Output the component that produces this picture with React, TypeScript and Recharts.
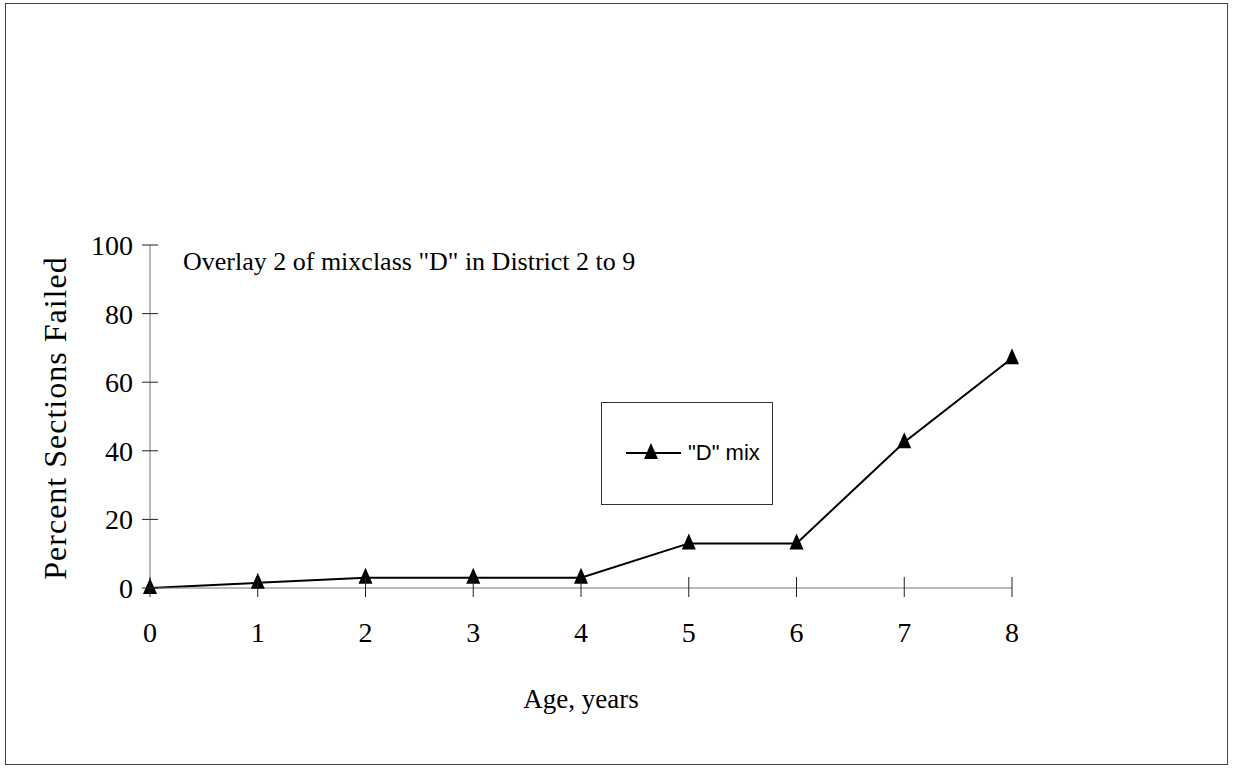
import React from 'react';
import {
  LineChart, Line, XAxis, YAxis, Customized,
} from 'recharts';

const ages = [0, 1, 2, 3, 4, 5, 6, 7, 8];
const failedPct = [0, 1.5, 3, 3, 3, 13, 13, 42.5, 67];
const yTicks = [0, 20, 40, 60, 80, 100];

const seriesName = '"D" mix';
const chartTitle = 'Overlay 2 of mixclass "D" in District 2 to 9';

const data = ages.map((age, i) => ({ age, pct: failedPct[i] }));

const SERIF = '"Liberation Serif", "Times New Roman", serif';
const SANS = '"Liberation Sans", Arial, sans-serif';

function Triangle({ cx, cy }: { cx?: number; cy?: number }) {
  if (cx == null || cy == null) return null;
  return <path d={`M${cx},${cy - 10} L${cx + 7},${cy + 6} L${cx - 7},${cy + 6} Z`} fill="#000" />;
}

function XTick({ x, y, payload }: any) {
  return (
    <g>
      <line x1={x} x2={x} y1={y - 11} y2={y + 9} stroke="#222" strokeWidth={1} />
      <text x={x} y={y + 54} textAnchor="middle" fontFamily={SERIF} fontSize={28} fill="#000">
        {payload.value}
      </text>
    </g>
  );
}

function YTick({ x, y, payload }: any) {
  return (
    <g>
      <line x1={x - 8} x2={x + 8} y1={y} y2={y} stroke="#222" strokeWidth={1} />
      <text x={x - 17} y={y + 10} textAnchor="end" fontFamily={SERIF} fontSize={28} fill="#000">
        {payload.value}
      </text>
    </g>
  );
}

// legend box sits over the plot, drawn outside the chart so it takes no space
function LegendBox() {
  return (
    <div style={{ position: 'absolute', left: 601, top: 402, width: 172, height: 103, border: '1px solid #333', boxSizing: 'border-box', background: '#fff' }}>
      <svg width={170} height={101} style={{ display: 'block' }}>
        <line x1={24} x2={79} y1={50} y2={50} stroke="#000" strokeWidth={2} />
        <Triangle cx={49} cy={50} />
        <text x={86} y={57} fontFamily={SANS} fontSize={22} fill="#000">{seriesName}</text>
      </svg>
    </div>
  );
}

export default function App() {
  return (
    <div style={{ position: 'absolute', left: 0, top: 0, width: 1233, height: 772, background: '#fff' }}>
      <div style={{ position: 'absolute', left: 5, top: 3, width: 1223, height: 762, border: '1px solid #444', boxSizing: 'border-box' }} />
      <div style={{ position: 'absolute', left: 0, top: 0 }}>
        <LineChart width={1233} height={772} data={data} margin={{ top: 245, right: 221, bottom: 124, left: 90 }}>
          <XAxis
            dataKey="age"
            type="number"
            domain={[0, 8]}
            ticks={ages}
            interval={0}
            height={60}
            tickLine={false}
            tickSize={0}
            tickMargin={0}
            axisLine={{ stroke: '#777', strokeWidth: 1 }}
            tick={<XTick />}
            label={{
              content: ({ viewBox }: any) => (
                <text x={viewBox.x + viewBox.width / 2} y={viewBox.y + 120} textAnchor="middle" fontFamily={SERIF} fontSize={27} fill="#000">
                  Age, years
                </text>
              ),
            }}
          />
          <YAxis
            type="number"
            domain={[0, 100]}
            ticks={yTicks}
            interval={0}
            width={60}
            tickLine={false}
            tickSize={0}
            tickMargin={0}
            axisLine={{ stroke: '#777', strokeWidth: 1 }}
            tick={<YTick />}
            label={{
              content: ({ viewBox }: any) => {
                const cx = viewBox.x - 35;
                const cy = 418;
                return (
                  <text x={cx} y={cy} transform={`rotate(-90, ${cx}, ${cy})`} textAnchor="middle" dominantBaseline="central" fontFamily={SERIF} fontSize={32} letterSpacing={1} fill="#000">
                    Percent Sections Failed
                  </text>
                );
              },
            }}
          />
          <Customized
            component={() => (
              <text x={183} y={270} fontFamily={SERIF} fontSize={26} fill="#000">{chartTitle}</text>
            )}
          />
          <Line
            type="linear"
            dataKey="pct"
            name={seriesName}
            stroke="#000"
            strokeWidth={2}
            dot={(p: any) => <Triangle key={p.index} cx={p.cx} cy={p.cy} />}
            activeDot={false}
            isAnimationActive={false}
          />
        </LineChart>
      </div>
      <LegendBox />
    </div>
  );
}
